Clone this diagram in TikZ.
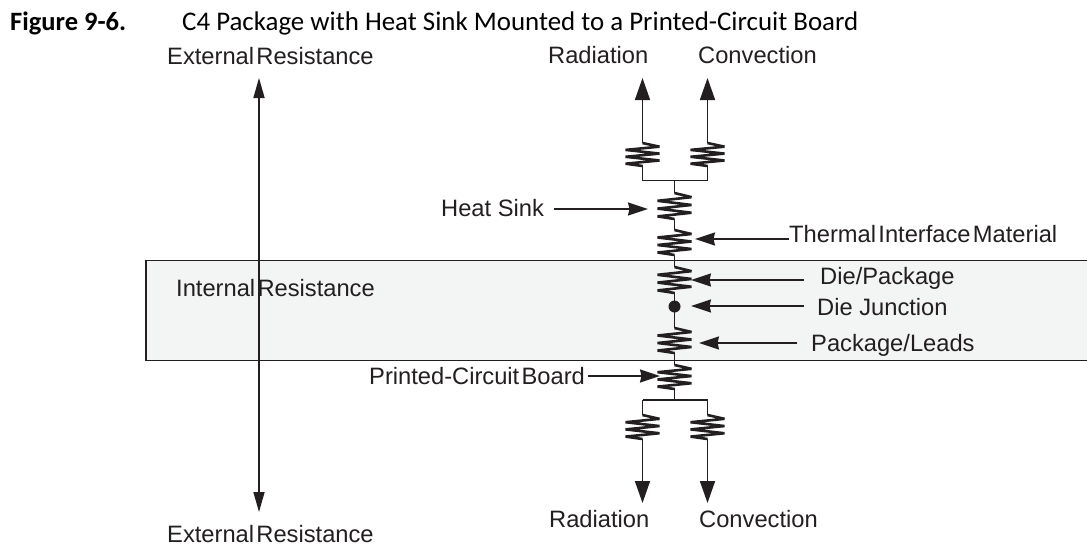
\documentclass[tikz,border=0pt]{standalone}
\usepackage{fontspec}
\setmainfont{Liberation Sans}
\newfontfamily\tightf[WordSpace=0.35]{Liberation Sans}
\newfontfamily\titlef{Carlito}
\usetikzlibrary{arrows.meta}
\definecolor{ink}{HTML}{231F20}
\definecolor{band}{HTML}{F3F5F5}
\tikzset{
  wire/.style={draw=ink,line width=1.7pt},
  lead/.style={draw=ink,line width=1.4pt,-{Stealth[length=20pt,width=13pt,inset=1.5pt]}},
  bigarrow/.style={draw=ink,line width=1.7pt,-{Stealth[length=22pt,width=15pt,inset=0pt]}},
  twoway/.style={draw=ink,line width=1.6pt,{Stealth[length=20pt,width=11pt,inset=0pt]}-{Stealth[length=20pt,width=11pt,inset=0pt]}},
  zig/.style={draw=ink,line width=2.6pt,line join=miter,miter limit=3},
  lab/.style={text=ink,font=\fontsize{23.7}{26}\selectfont,inner sep=0pt,anchor=base west},
  tlab/.style={lab,font=\fontsize{23.7}{26}\tightf},
  head/.style={inner sep=0pt,anchor=base west,text=black,font=\fontsize{26.9}{30}\titlef}
}
% #1 x, #2 top y, #3 bottom y
\newcommand{\resist}[3]{%
  \pgfmathsetmacro{\ya}{#2}\pgfmathsetmacro{\yb}{#3}\pgfmathsetmacro{\hh}{(\yb-\ya)}%
  \draw[zig] (#1,\ya)
   -- ({#1+17},{\ya+0.16*\hh}) -- ({#1-17},{\ya+0.30*\hh})
   -- ({#1+17},{\ya+0.46*\hh}) -- ({#1-17},{\ya+0.60*\hh})
   -- ({#1+17},{\ya+0.76*\hh}) -- ({#1-17},{\ya+0.90*\hh})
   -- (#1,\yb);}
\begin{document}
\begin{tikzpicture}[x=1pt,y=-1pt]
\useasboundingbox (0,0) rectangle (1087,546);
% band
\path[fill=band,draw=ink,line width=1.7pt] (146,260.5) -- (1090,260.5) -- (1090,360.5) -- (146,360.5) -- cycle;
% title
\node[head,font=\fontsize{26.5}{30}\titlef\bfseries] (figno) at (10,30) {Figure 9-6.};
\node[head] (title) at (182,30) {C4 Package with Heat Sink Mounted to a Printed-Circuit Board};
% end labels
\node[tlab] (exttop) at (167,64.5) {External Resistance};
\node[tlab] (extbot) at (167,542) {External Resistance};
\node[tlab] (intres) at (176,296) {Internal Resistance};
\node[lab] (radtop) at (548,63.5) {Radiation};
\node[lab] (contop) at (698,63.5) {Convection};
\node[lab] (radbot) at (549,527) {Radiation};
\node[lab] (conbot) at (699,527) {Convection};
\node[lab] (hs) at (441,216) {Heat Sink};
\node[tlab] (tim) at (789,242) {Thermal Interface Material};
\node[lab] (dp) at (820,284) {Die/Package};
\node[lab] (dj) at (817,315) {Die Junction};
\node[lab] (pl) at (811,351) {Package/Leads};
\node[tlab] (pcb) at (369,384) {Printed-Circuit Board};
% named points
\coordinate (exttip) at (259,78);
\coordinate (extend) at (259,512);
\coordinate (tipr) at (642.5,78);
\coordinate (tipc) at (707.5,78);
\coordinate (tipR) at (642.5,503);
\coordinate (tipC) at (707.5,503);
\node[circle,fill=ink,minimum size=12pt,inner sep=0pt] (junction) at (674.5,306.5) {};
\coordinate (hstip) at (648,209);
\coordinate (timtip) at (695,239);
\coordinate (dptip) at (691,280);
\coordinate (djtip) at (691,306);
\coordinate (pltip) at (699,343);
\coordinate (pcbtip) at (660,376);
% double arrow
\draw[twoway] (exttip) -- (extend);
% main wires
\draw[wire] (674.5,180.5) -- (674.5,400);
\draw[wire] (642.5,180.5) -- (707.5,180.5);
\draw[wire] (642.5,400) -- (707.5,400);
\draw[wire] (642.5,180.5) -- (642.5,165);
\draw[wire] (707.5,180.5) -- (707.5,165);
\draw[wire] (642.5,400) -- (642.5,415);
\draw[wire] (707.5,400) -- (707.5,415);
\path[fill=white] (655,193) rectangle (694,219) (655,230) rectangle (694,255);
\path[fill=white] (655,365) rectangle (694,388);
\path[fill=band] (655,267) rectangle (694,292) (655,328) rectangle (694,352);
% resistors
\resist{674.5}{193}{219}
\resist{674.5}{230}{255}
\resist{674.5}{267}{293}
\resist{674.5}{328}{353}
\resist{674.5}{365}{389}
\resist{642.5}{143}{166}
\resist{707.5}{143}{166}
\resist{642.5}{415}{439}
\resist{707.5}{415}{439}
% outlet arrows
\draw[bigarrow] (642.5,143) -- (tipr);
\draw[bigarrow] (707.5,143) -- (tipc);
\draw[bigarrow] (642.5,439) -- (tipR);
\draw[bigarrow] (707.5,439) -- (tipC);
% label leaders
\draw[lead] ([xshift=10pt]hs.base east |- hstip) -- (hstip);
\draw[lead] (tim.base west |- timtip) -- (timtip);
\draw[lead] ([xshift=-16pt]dp.base west |- dptip) -- (dptip);
\draw[lead] ([xshift=-13pt]dj.base west |- djtip) -- (djtip);
\draw[lead] ([xshift=-14pt]pl.base west |- pltip) -- (pltip);
\draw[lead] ([xshift=3pt]pcb.base east |- pcbtip) -- (pcbtip);
\end{tikzpicture}
\end{document}
